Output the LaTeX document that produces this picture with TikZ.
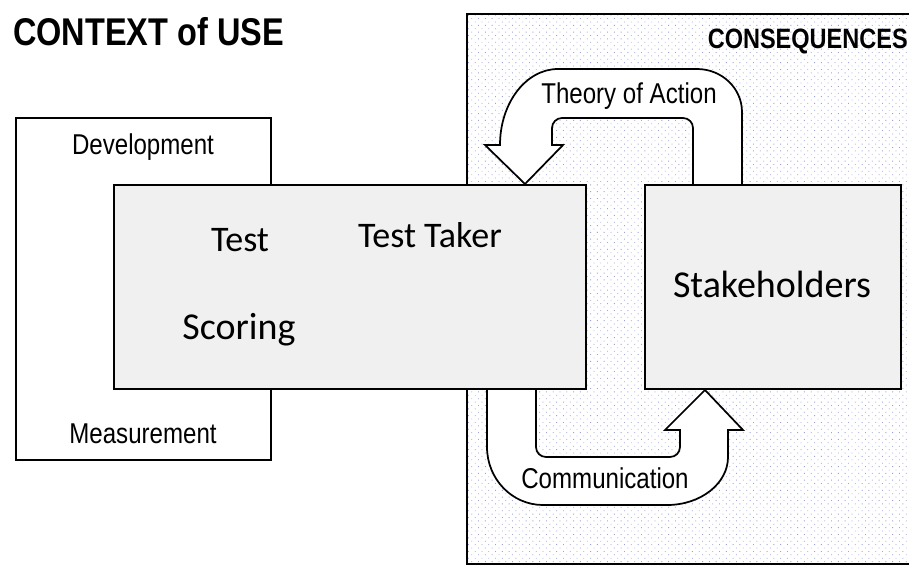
\documentclass[tikz,border=0pt]{standalone}
\usepackage{fontspec}
\setmainfont{Liberation Sans}
\newfontfamily\narrowsf[FakeStretch=0.84]{Liberation Sans}
\newfontfamily\calibri{Carlito}
\usepackage{tikz}
\usetikzlibrary{calc,patterns.meta,backgrounds}

\definecolor{boxgray}{HTML}{F0F0F0}
\definecolor{dotblue}{HTML}{9AA3DA}

\begin{document}
\begin{tikzpicture}[x=0.75pt,y=-0.75pt,
  conframe/.style={draw,line width=1.4pt,pattern={Dots[distance=3.6pt,angle=45,radius=0.45pt]},pattern color=dotblue,inner sep=0pt,anchor=north west},
  whitebox/.style={draw,line width=1.5pt,fill=white,inner sep=0pt,anchor=north west},
  graybox/.style={whitebox,fill=boxgray},
  blockarrow/.style={draw,line width=1.3pt,fill=white,line join=miter},
  narrowtext/.style={font=\narrowsf\fontsize{21.5pt}{24pt}\selectfont,anchor=base,inner sep=0pt},
  headtext/.style={font=\narrowsf\bfseries\fontsize{#1}{#1}\selectfont,inner sep=0pt},
  bigtext/.style={font=\calibri\fontsize{#1}{#1}\selectfont,anchor=base,inner sep=0pt}]
\useasboundingbox (0,0) rectangle (909,565);

% CONSEQUENCES area (dotted, behind everything)
\begin{scope}[on background layer]
\node[conframe,minimum width={449*0.75pt},minimum height={550*0.75pt}] (conarea) at (466,13) {};
\end{scope}

% Context of use
\node[whitebox,minimum width={255*0.75pt},minimum height={342*0.75pt}] (ctxbox) at (15,117) {};
\node[graybox,minimum width={472*0.75pt},minimum height={204*0.75pt}] (mainbox) at (113,184) {};
\node[graybox,minimum width={256*0.75pt},minimum height={204*0.75pt}] (stakebox) at (644,184) {};

% Headings
\node[headtext=29pt,anchor=base west] (ctxtitle) at (13,45) {CONTEXT of USE};
\node[headtext=21pt,anchor=base east] (contitle) at (908,48) {CONSEQUENCES};

% Labels in the boxes
\node[narrowtext] (devel) at (143,154) {Development};
\node[narrowtext] (measure) at (143,443) {Measurement};
\node[bigtext=27pt] (test) at (240,251) {Test};
\node[bigtext=27pt] (taker) at (430,247) {Test Taker};
\node[bigtext=28.5pt] (scoring) at (239,339) {Scoring};
\node[bigtext=28.5pt] (stakelbl) at (772,297) {Stakeholders};

% Block arrows (under the boxes)
\begin{scope}[on background layer]
% Theory of Action
\draw[blockarrow] ($(stakebox.north west)+(98,0)$) -- (742,112)
  arc[x radius=45,y radius=43,start angle=0,end angle=-90] -- (558,69)
  arc[x radius=58,y radius=76,start angle=-90,end angle=-180] -- (485,145)
  -- ($(mainbox.north west)+(412,0)$) -- (563,145) -- (552,145) -- (552,128)
  arc[radius=10,start angle=180,end angle=270] -- (683,118)
  arc[radius=10,start angle=270,end angle=360] -- ($(stakebox.north west)+(49,0)$);
% Communication
\draw[blockarrow] ($(mainbox.south west)+(374,0)$) -- (487,447)
  arc[x radius=56,y radius=58,start angle=180,end angle=90] -- (667,505)
  arc[x radius=61,y radius=48,start angle=90,end angle=0] -- (728,430)
  -- (743,430) -- ($(stakebox.south west)+(61,0)$) -- (665,430) -- (680,430) -- (680,447)
  arc[radius=10,start angle=0,end angle=90] -- (546,457)
  arc[radius=10,start angle=90,end angle=180] -- ($(mainbox.south west)+(423,0)$);
\end{scope}

\node[narrowtext] (toalbl) at (629,103) {Theory of Action};
\node[narrowtext] (commlbl) at (605,488) {Communication};
\end{tikzpicture}
\end{document}
